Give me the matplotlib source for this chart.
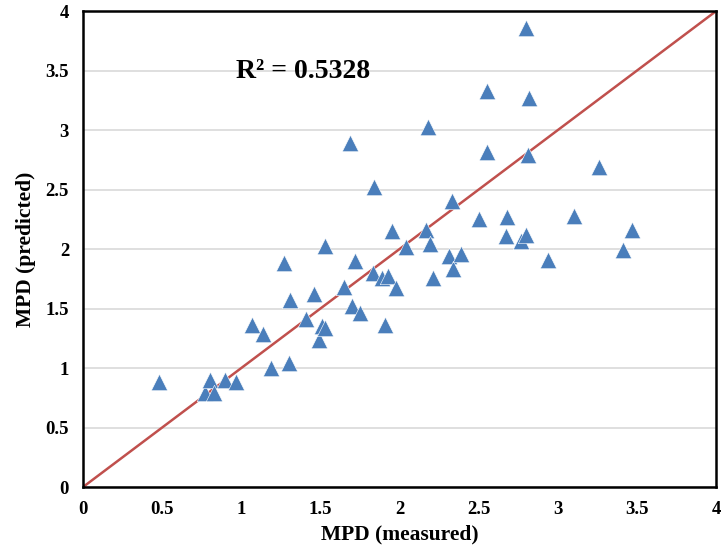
import matplotlib.pyplot as plt
import numpy as np

plt.rcParams['font.family'] = 'Liberation Serif'
plt.rcParams['font.weight'] = 'bold'

# measured vs predicted MPD
mpd_measured = [0.48, 0.77, 0.80, 0.83, 0.90, 0.97, 1.07, 1.14, 1.19, 1.27, 1.31, 1.30,
                1.41, 1.46, 1.49, 1.51, 1.53, 1.53, 1.65, 1.69, 1.70, 1.72, 1.75, 1.83,
                1.84, 1.89, 1.91, 1.93, 1.95, 1.98, 2.04, 2.17, 2.18, 2.19, 2.21, 2.31,
                2.33, 2.34, 2.39, 2.50, 2.55, 2.55, 2.67, 2.68, 2.77, 2.80, 2.80, 2.81,
                2.82, 2.94, 3.10, 3.26, 3.41, 3.47]
mpd_predicted = [0.88, 0.79, 0.90, 0.79, 0.90, 0.88, 1.36, 1.29, 1.00, 1.88, 1.57, 1.04,
                 1.41, 1.62, 1.24, 1.35, 1.34, 2.03, 1.68, 2.89, 1.52, 1.90, 1.46, 1.80,
                 2.52, 1.76, 1.36, 1.77, 2.15, 1.67, 2.02, 2.16, 3.03, 2.04, 1.76, 1.94,
                 2.40, 1.83, 1.96, 2.25, 3.33, 2.82, 2.11, 2.27, 2.07, 2.12, 3.86, 2.79,
                 3.27, 1.91, 2.28, 2.69, 1.99, 2.16]
r2_text = 'R² = 0.5328'

fig = plt.figure(figsize=(7.24, 5.56), dpi=100)
ax = fig.add_axes([0.1146, 0.124, 0.8744, 0.856])

ax.plot([0, 4], [0, 4], color='#C0504D', linewidth=1.8, zorder=2)
ax.scatter(mpd_measured, mpd_predicted, marker='^', s=140, color='#4A7EBB',
           edgecolors='white', linewidths=0.4, zorder=3)

ax.set_xlim(0, 4)
ax.set_ylim(0, 4)
ax.set_xticks(np.arange(0, 4.01, 0.5))
ax.set_yticks(np.arange(0, 4.01, 0.5))
ax.set_xticklabels(['0', '0.5', '1', '1.5', '2', '2.5', '3', '3.5', '4'])
ax.set_yticklabels(['0', '0.5', '1', '1.5', '2', '2.5', '3', '3.5', '4'])
ax.tick_params(length=0, labelsize=13.5, pad=10)
ax.grid(axis='y', color='#D9D9D9', linewidth=1.2, zorder=0)
ax.set_axisbelow(True)
for s in ax.spines.values():
    s.set_linewidth(1.8)
    s.set_color('black')

ax.text(0.97, 3.49, r2_text, fontsize=20, fontweight='bold', va='center', ha='left')

ax.set_xlabel('MPD (measured)', fontsize=15.5, fontweight='bold', labelpad=5)
ax.set_ylabel('MPD (predicted)', fontsize=15.5, fontweight='bold', labelpad=7)

plt.savefig('out.png', dpi=100)
